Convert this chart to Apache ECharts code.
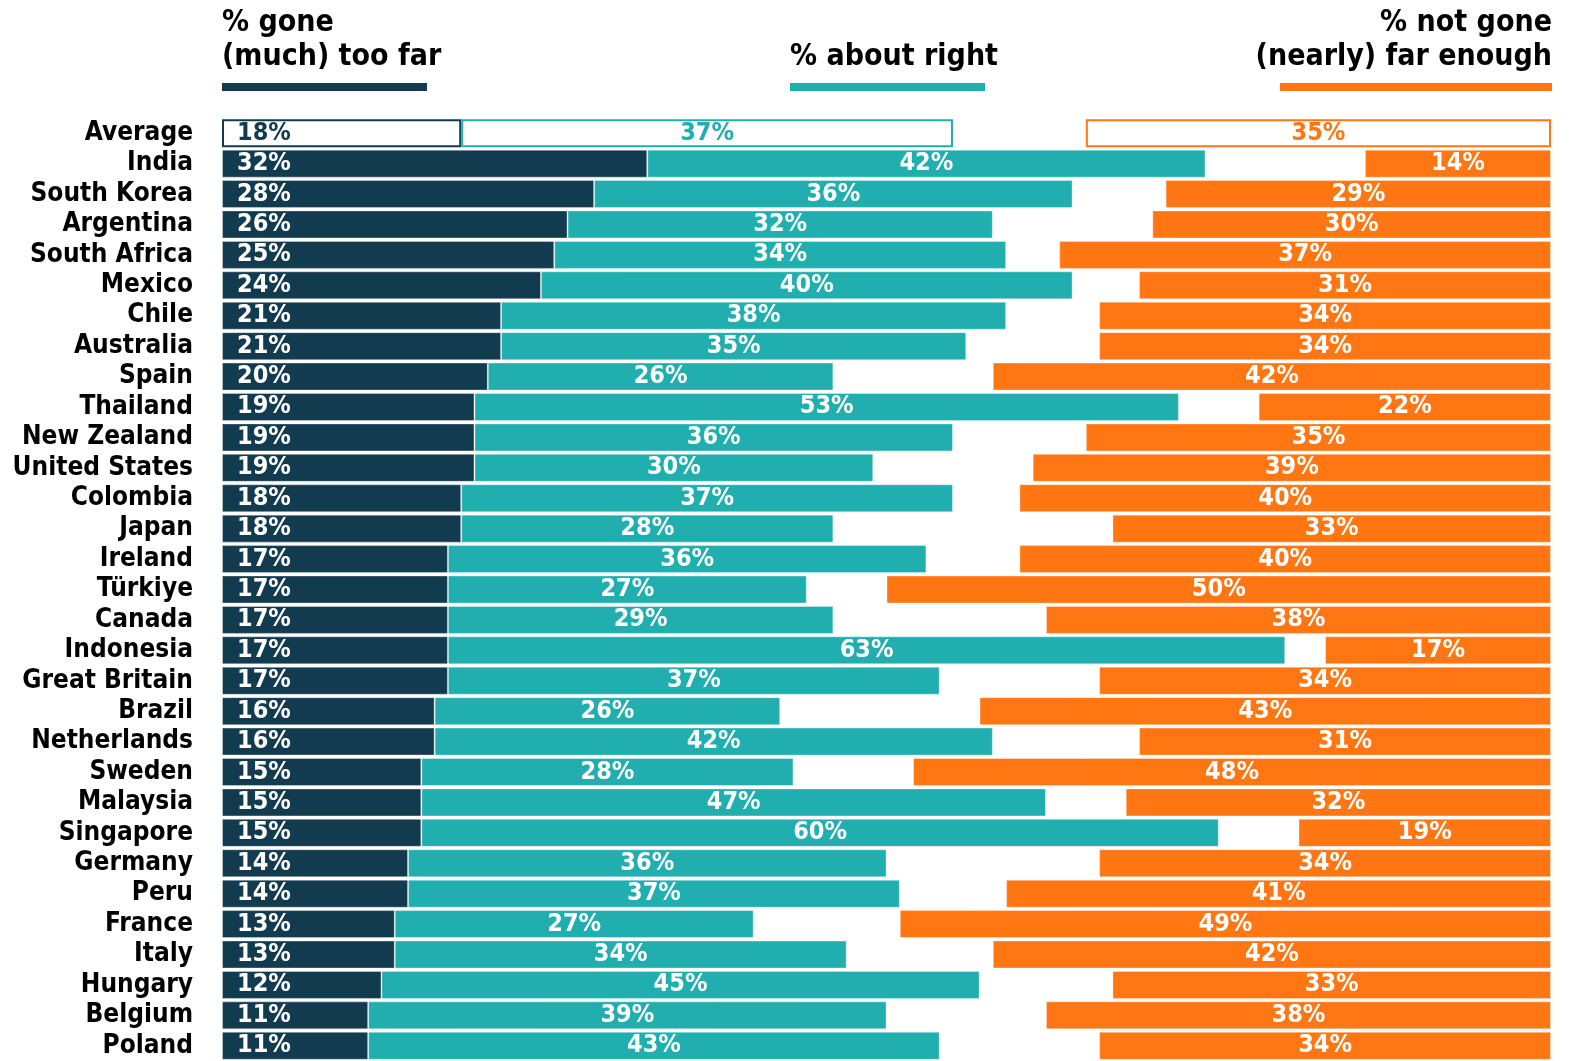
<!DOCTYPE html>
<html>
<head>
<meta charset="utf-8">
<title>Gone too far / about right / not far enough</title>
<script src="https://cdn.jsdelivr.net/npm/echarts@6/dist/echarts.min.js"></script>
<style>
  html, body { margin: 0; padding: 0; background: #ffffff; }
  #chart { width: 1580px; height: 1061px; }
</style>
</head>
<body>
<div id="chart"></div>
<script>
// Rows, top to bottom; the first row is the cross-country average.
const countries = ['Average', 'India', 'South Korea', 'Argentina', 'South Africa', 'Mexico', 'Chile',
  'Australia', 'Spain', 'Thailand', 'New Zealand', 'United States', 'Colombia', 'Japan', 'Ireland',
  'Türkiye', 'Canada', 'Indonesia', 'Great Britain', 'Brazil', 'Netherlands', 'Sweden', 'Malaysia',
  'Singapore', 'Germany', 'Peru', 'France', 'Italy', 'Hungary', 'Belgium', 'Poland'];

// % saying it has gone (much) too far
const goneTooFar = [18, 32, 28, 26, 25, 24, 21, 21, 20, 19, 19, 19, 18, 18, 17, 17, 17, 17, 17, 16, 16,
  15, 15, 15, 14, 14, 13, 13, 12, 11, 11];
// % saying it is about right
const aboutRight = [37, 42, 36, 32, 34, 40, 38, 35, 26, 53, 36, 30, 37, 28, 36, 27, 29, 63, 37, 26, 42,
  28, 47, 60, 36, 37, 27, 34, 45, 39, 43];
// % saying it has not gone (nearly) far enough
const notFarEnough = [35, 14, 29, 30, 37, 31, 34, 34, 42, 22, 35, 39, 40, 33, 40, 50, 38, 17, 34, 43, 31,
  48, 32, 19, 34, 41, 49, 42, 33, 38, 34];

const headers = {
  left: ['% gone', '(much) too far'],
  middle: ['% about right'],
  right: ['% not gone', '(nearly) far enough']
};

const DARK = '#133b4f';
const TEAL = '#20afae';
const ORANGE = '#ff7613';
const FONT = '"Liberation Sans Narrow", "DejaVu Sans Condensed", "Roboto", sans-serif';
const HEAD_FONT = 'bold 30px ' + FONT;

// The average row is drawn as outlined boxes with coloured text.
function toItems(values, color) {
  return values.map((v, i) => i === 0
    ? { value: v, itemStyle: { color: '#ffffff', borderColor: color, borderWidth: 2 }, label: { color: color } }
    : { value: v });
}

const labelBase = {
  show: true,
  color: '#ffffff',
  fontFamily: FONT,
  fontWeight: 'bold',
  fontSize: 25,
  formatter: p => p.value + '%'
};

const edge = { borderColor: 'rgba(255,255,255,0.35)', borderWidth: 1 };

const chart = echarts.init(document.getElementById('chart'), null, { renderer: 'canvas' });

chart.setOption({
  backgroundColor: '#ffffff',
  animation: false,
  grid: { left: 222, top: 118, width: 1329, height: 949, containLabel: false },
  xAxis: [
    { type: 'value', min: 0, max: 100, show: false },
    { type: 'value', min: 0, max: 100, inverse: true, show: false }
  ],
  yAxis: {
    type: 'category',
    data: countries,
    inverse: true,
    axisLine: { show: false },
    axisTick: { show: false },
    splitLine: { show: false },
    axisLabel: {
      interval: 0,
      margin: 29,
      color: '#000000',
      fontFamily: FONT,
      fontWeight: 'bold',
      fontSize: 26
    }
  },
  series: [
    {
      name: 'gone too far',
      type: 'bar',
      stack: 'left',
      xAxisIndex: 0,
      barWidth: 28,
      barGap: '-100%',
      itemStyle: Object.assign({ color: DARK }, edge),
      label: Object.assign({}, labelBase, { position: 'insideLeft', distance: 15 }),
      data: toItems(goneTooFar, DARK)
    },
    {
      name: 'about right',
      type: 'bar',
      stack: 'left',
      xAxisIndex: 0,
      barWidth: 28,
      barGap: '-100%',
      itemStyle: Object.assign({ color: TEAL }, edge),
      label: Object.assign({}, labelBase, { position: 'inside' }),
      data: toItems(aboutRight, TEAL)
    },
    {
      name: 'not far enough',
      type: 'bar',
      xAxisIndex: 1,
      barWidth: 28,
      barGap: '-100%',
      itemStyle: Object.assign({ color: ORANGE }, edge),
      label: Object.assign({}, labelBase, { position: 'inside' }),
      data: toItems(notFarEnough, ORANGE)
    }
  ],
  graphic: [
    { type: 'text', left: 222, top: 8, style: { text: headers.left[0], font: HEAD_FONT, fill: '#000000' } },
    { type: 'text', left: 222, top: 42, style: { text: headers.left[1], font: HEAD_FONT, fill: '#000000' } },
    { type: 'rect', shape: { x: 222, y: 83, width: 205, height: 8 }, style: { fill: DARK } },
    { type: 'text', left: 790, top: 42, style: { text: headers.middle[0], font: HEAD_FONT, fill: '#000000' } },
    { type: 'rect', shape: { x: 790, y: 83, width: 195, height: 8 }, style: { fill: TEAL } },
    { type: 'text', right: 28, top: 8, style: { text: headers.right[0], font: HEAD_FONT, fill: '#000000' } },
    { type: 'text', right: 28, top: 42, style: { text: headers.right[1], font: HEAD_FONT, fill: '#000000' } },
    { type: 'rect', shape: { x: 1280, y: 83, width: 272, height: 8 }, style: { fill: ORANGE } }
  ]
});
</script>
</body>
</html>
